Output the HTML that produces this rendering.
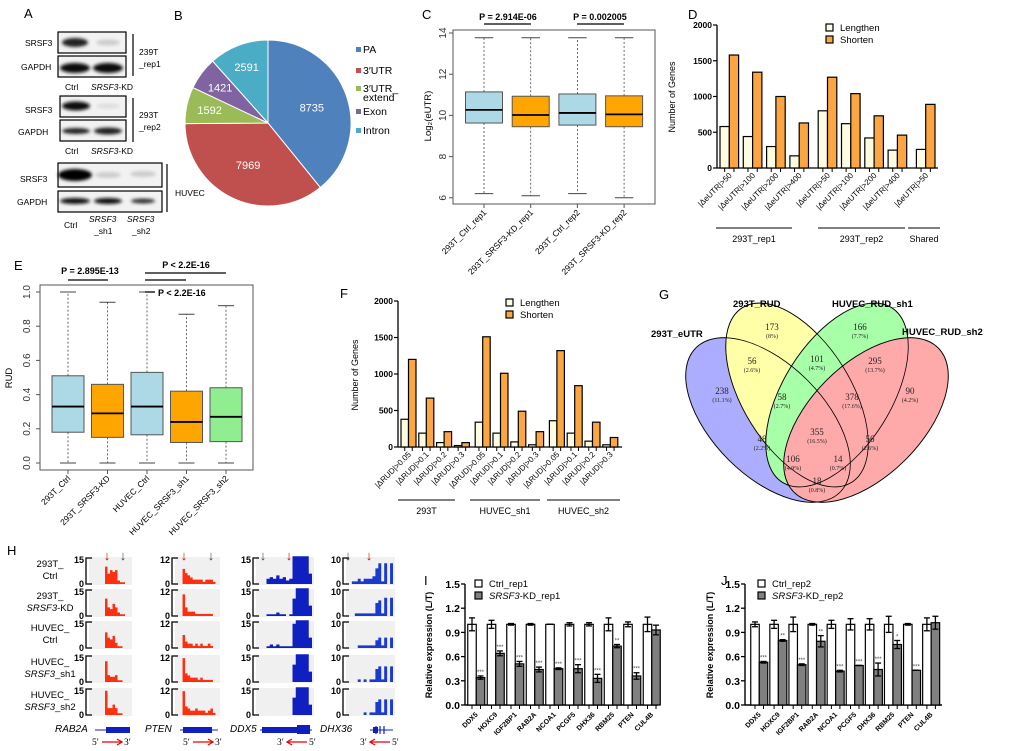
<!DOCTYPE html>
<html><head><meta charset="utf-8"><style>
html,body{margin:0;padding:0;background:#fff;}
svg{display:block;font-family:"Liberation Sans",sans-serif;}
</style></head><body>
<svg id="fig" width="1020" height="751" viewBox="0 0 1020 751" xmlns="http://www.w3.org/2000/svg">
<defs><filter id="blur" x="-20%" y="-50%" width="140%" height="200%"><feGaussianBlur stdDeviation="1.6"/></filter></defs>
<g font-size="13" fill="#000">
<text x="24" y="18">A</text><text x="174" y="20">B</text><text x="422" y="19">C</text><text x="688" y="19">D</text>
<text x="14" y="270">E</text><text x="340" y="298">F</text><text x="659" y="299">G</text><text x="7" y="555">H</text>
<text x="424" y="585">I</text><text x="721" y="585">J</text></g>
<g id="panelA" font-size="8.5">
<rect x="58" y="32" width="68" height="21" fill="#f2f2f2" stroke="#000" stroke-width="1.2"/>
<ellipse cx="75" cy="42.5" rx="13" ry="4.5" fill="#222" filter="url(#blur)"/><ellipse cx="108" cy="42.5" rx="12" ry="3" fill="#ccc" filter="url(#blur)"/>
<rect x="58" y="56" width="68" height="21" fill="#f2f2f2" stroke="#000" stroke-width="1.2"/>
<ellipse cx="75" cy="68" rx="15" ry="5" fill="#111" filter="url(#blur)"/><ellipse cx="108" cy="68" rx="15" ry="5" fill="#111" filter="url(#blur)"/>
<text x="25" y="46">SRSF3</text><text x="21" y="70">GAPDH</text>
<text x="65" y="90">Ctrl</text><text x="91" y="90"><tspan font-style="italic">SRSF3</tspan>-KD</text>
<line x1="133" y1="34" x2="133" y2="76" stroke="#000" stroke-width="1.2"/><text x="139" y="55">239T</text><text x="139" y="67">_rep1</text>
<rect x="60" y="96" width="66" height="21" fill="#f2f2f2" stroke="#000" stroke-width="1.2"/>
<ellipse cx="76" cy="106" rx="14" ry="4.5" fill="#111" filter="url(#blur)"/><ellipse cx="108" cy="106" rx="12" ry="2.5" fill="#ddd" filter="url(#blur)"/>
<rect x="60" y="120" width="66" height="21" fill="#f2f2f2" stroke="#000" stroke-width="1.2"/>
<ellipse cx="76" cy="131" rx="14" ry="3" fill="#222" filter="url(#blur)"/><ellipse cx="108" cy="131" rx="14" ry="3.5" fill="#222" filter="url(#blur)"/>
<text x="25" y="113">SRSF3</text><text x="18" y="135">GAPDH</text>
<text x="65" y="154">Ctrl</text><text x="91" y="154"><tspan font-style="italic">SRSF3</tspan>-KD</text>
<line x1="133" y1="98" x2="133" y2="142" stroke="#000" stroke-width="1.2"/><text x="139" y="118">293T</text><text x="139" y="130">_rep2</text>
<rect x="58" y="163" width="104" height="24" fill="#f2f2f2" stroke="#000" stroke-width="1.2"/>
<ellipse cx="75" cy="175" rx="17" ry="6" fill="#000" filter="url(#blur)"/><ellipse cx="108" cy="175" rx="13" ry="3" fill="#ccc" filter="url(#blur)"/><ellipse cx="143" cy="174" rx="13" ry="3" fill="#ccc" filter="url(#blur)"/>
<rect x="58" y="191" width="104" height="21" fill="#f2f2f2" stroke="#000" stroke-width="1.2"/>
<ellipse cx="75" cy="201" rx="15" ry="3" fill="#111" filter="url(#blur)"/><ellipse cx="108" cy="201" rx="14" ry="3" fill="#111" filter="url(#blur)"/><ellipse cx="143" cy="201" rx="12" ry="2.5" fill="#333" filter="url(#blur)"/>
<text x="20" y="182">SRSF3</text><text x="17" y="205">GAPDH</text>
<line x1="167" y1="164" x2="167" y2="212" stroke="#000" stroke-width="1.2"/><text x="175" y="196">HUVEC</text>
<text x="64" y="228">Ctrl</text>
<text x="89" y="222" font-style="italic">SRSF3</text><text x="94" y="234">_sh1</text>
<text x="127" y="222" font-style="italic">SRSF3</text><text x="132" y="234">_sh2</text>
</g>
<g id="panelB"></g>
<g id="panelC"></g>
<g id="panelD"></g>
<g id="panelE"></g>
<g id="panelF"></g>
<g id="panelG">
<g opacity="0.55">
<ellipse cx="768" cy="420" rx="102" ry="56" transform="rotate(45 768 420)" fill="#6b6bff" stroke="#000"/>
<ellipse cx="797" cy="395" rx="103" ry="54" transform="rotate(58 797 395)" fill="#ffff60" stroke="#000"/>
<ellipse cx="837" cy="395" rx="103" ry="54" transform="rotate(-58 837 395)" fill="#60ff60" stroke="#000"/>
<ellipse cx="866" cy="420" rx="102" ry="56" transform="rotate(-45 866 420)" fill="#ff6666" stroke="#000"/>
</g>
<g fill="none" stroke="#000" stroke-width="0.8">
<ellipse cx="768" cy="420" rx="102" ry="56" transform="rotate(45 768 420)"/>
<ellipse cx="797" cy="395" rx="103" ry="54" transform="rotate(58 797 395)"/>
<ellipse cx="837" cy="395" rx="103" ry="54" transform="rotate(-58 837 395)"/>
<ellipse cx="866" cy="420" rx="102" ry="56" transform="rotate(-45 866 420)"/>
</g>
<g font-weight="bold" font-size="9.5">
<text x="651" y="337">293T_eUTR</text><text x="733" y="307">293T_RUD</text><text x="832" y="307">HUVEC_RUD_sh1</text><text x="902" y="335">HUVEC_RUD_sh2</text></g>
<g id="vennNums" font-family="Liberation Serif,serif" text-anchor="middle" fill="#222"></g>
</g>
<g id="panelH"></g>
<g id="panelI"></g>
<g id="panelJ"></g>
</svg>
<script>
const pieLabels=["PA","3′UTR","3′UTR_ extend","Exon","Intron"];
const pieValues=[8735,7969,1592,1421,2591];
const pieColors=["#4f81bd","#c0504d","#9bbb59","#8064a2","#4bacc6"];

const cCats=["293T_Ctrl_rep1","293T_SRSF3-KD_rep1","293T_Ctrl_rep2","293T_SRSF3-KD_rep2"];
const cMin=[6.2,6.1,6.2,6.0];
const cQ1=[9.63,9.45,9.53,9.45];
const cMed=[10.27,10.02,10.12,10.05];
const cQ3=[11.14,10.93,11.04,10.95];
const cMax=[13.77,13.77,13.77,13.77];
const cTicks=[6,8,10,12,14];

const dCats=["|ΔeUTR|>50","|ΔeUTR|>100","|ΔeUTR|>200","|ΔeUTR|>400","|ΔeUTR|>50","|ΔeUTR|>100","|ΔeUTR|>200","|ΔeUTR|>400","|ΔeUTR|>50"];
const dLengthen=[580,440,300,170,800,620,420,250,260];
const dShorten=[1580,1340,1000,630,1270,1040,730,460,890];
const dTicks=[0,500,1000,1500,2000];

const eCats=["293T_Ctrl","293T_SRSF3-KD","HUVEC_Ctrl","HUVEC_SRSF3_sh1","HUVEC_SRSF3_sh2"];
const eMin=[0,0,0,0,0];
const eQ1=[0.18,0.15,0.165,0.12,0.125];
const eMed=[0.33,0.29,0.33,0.24,0.27];
const eQ3=[0.51,0.46,0.53,0.42,0.44];
const eMax=[1.0,0.94,1.0,0.87,0.92];
const eTicks=[0,0.2,0.4,0.6,0.8,1.0];

const fCats=["|ΔRUD|>0.05","|ΔRUD|>0.1","|ΔRUD|>0.2","|ΔRUD|>0.3","|ΔRUD|>0.05","|ΔRUD|>0.1","|ΔRUD|>0.2","|ΔRUD|>0.3","|ΔRUD|>0.05","|ΔRUD|>0.1","|ΔRUD|>0.2","|ΔRUD|>0.3"];
const fLengthen=[380,190,60,20,340,190,70,30,360,190,80,30];
const fShorten=[1200,670,210,60,1510,1010,490,210,1320,840,340,130];
const fTicks=[0,500,1000,1500,2000];

const vennNums=["173","166","56","101","295","238","58","378","90","355","48","56","106","14","18"];
const vennPct=["(8%)","(7.7%)","(2.6%)","(4.7%)","(13.7%)","(11.1%)","(2.7%)","(17.6%)","(4.2%)","(16.5%)","(2.2%)","(2.6%)","(4.9%)","(0.7%)","(0.8%)"];

const qGenes=["DDX5","HOXC9","IGF2BP1","RAB2A","NCOA1","PCGF5","DHX36","RBM25","PTEN","CUL4B"];
const iCtrl=[1,1,1,1,1,1,1,1,1,1];
const iCtrlErr=[0.08,0.05,0.01,0.01,0,0.02,0.02,0.08,0.03,0.09];
const iKD=[0.34,0.64,0.51,0.44,0.45,0.45,0.33,0.73,0.36,0.93];
const iKDErr=[0.02,0.03,0.03,0.03,0.01,0.05,0.05,0.02,0.04,0.06];
const iStars=["***","***","***","***","***","***","***","**","***",""];
const jCtrl=[1,1,1,1,1,1,1,1,1,1];
const jCtrlErr=[0.03,0.05,0.09,0.01,0.05,0.07,0.07,0.1,0.01,0.08];
const jKD=[0.53,0.80,0.50,0.79,0.42,0.49,0.44,0.75,0.43,1.02];
const jKDErr=[0.01,0.01,0.01,0.07,0.01,0,0.08,0.05,0,0.08];
const jStars=["***","**","***","**","***","***","***","*","***",""];
const qTicks=[0,0.3,0.6,0.9,1.2,1.5];

const hRows=["293T_|Ctrl","293T_|SRSF3-KD","HUVEC_|Ctrl","HUVEC_|SRSF3_sh1","HUVEC_|SRSF3_sh2"];
const hGenes=["RAB2A","PTEN","DDX5","DHX36"];
const hMax=[15,12,15,10];
const covRAB2A=[[0,0,0,0,10,6,8,7,8,2,1,1,0,0],[0,0,0,0,10,5,4,7,5,2,1,1,0,0],[0,0,0,0,9,6,5,7,3,1,1,0,0,0],[0,0,0,0,12,4,3,3,4,1,1,0,0,0],[0,0,0,0,14,4,4,6,4,1,1,0,0,0]];
const covPTEN=[[0,7,5,4,3,2,2,2,2,1,2,2,2,1,0],[0,10,4,2,2,2,1,1,1,1,1,1,1,0,0],[0,6,3,2,2,1,2,1,2,1,1,2,1,0,0],[0,11,4,3,2,2,2,1,2,1,1,1,1,0,0],[0,11,4,3,2,2,3,2,2,2,1,2,3,1,0]];
const covDDX5=[[0,0,3,4,3,5,3,4,2,3,16,16,16,16,16,6],[0,0,1,1,1,2,1,1,0,1,10,16,16,16,16,6],[0,0,1,2,1,2,1,1,1,1,14,16,16,16,16,6],[0,0,0,0,0,0,0,0,0,0,10,16,16,16,16,6],[0,0,0,0,0,0,0,0,0,0,10,16,16,16,16,6]];
const covDHX36=[[0,0,1,1,2,1,2,2,2,3,6,8,1,8,0,8],[0,0,0,1,1,1,1,1,1,1,5,6,1,7,0,7],[0,0,0,0,1,1,1,1,1,1,3,4,1,4,0,4],[0,0,0,0,1,0,1,0,1,1,5,6,1,6,0,6],[0,0,0,0,0,0,1,0,1,1,5,6,1,6,0,6]];

const NS="http://www.w3.org/2000/svg";
function mk(tag,attrs,parent){const e=document.createElementNS(NS,tag);for(const k in attrs)e.setAttribute(k,attrs[k]);parent.appendChild(e);return e;}
function tx(x,y,s,attrs,parent){const e=mk("text",Object.assign({x:x,y:y},attrs),parent);e.textContent=s;return e;}
function lin(a,b,c,d,attrs,parent){return mk("line",Object.assign({x1:a,y1:b,x2:c,y2:d,stroke:"#000"},attrs),parent);}

(function(){
const g=document.getElementById("panelB");
const cx=268,cy=123,r=83;const tot=pieValues.reduce((a,b)=>a+b,0);let acc=0;
const legY=[52,73,91,114,133];
pieValues.forEach((v,i)=>{
 const a0=acc/tot*2*Math.PI;acc+=v;const a1=acc/tot*2*Math.PI;
 const p=(a)=>[cx+r*Math.sin(a),cy-r*Math.cos(a)];
 const [x0,y0]=p(a0),[x1,y1]=p(a1);
 const s=mk("path",{d:`M${cx},${cy}L${x0},${y0}A${r},${r} 0 ${a1-a0>Math.PI?1:0} 1 ${x1},${y1}Z`,fill:pieColors[i],stroke:"#fff","stroke-width":1},g);
 
 
 const am=(a0+a1)/2,rr=r*(i<2?0.56:0.72);
 const t=tx(cx+rr*Math.sin(am),cy-rr*Math.cos(am)+4,String(v),{fill:"#fff","font-size":11,"text-anchor":"middle"},g);
 
 
 const ly=legY[i];
 const sw=mk("rect",{x:356,y:ly-5,width:5,height:5,fill:pieColors[i]},g);
 
 
 const parts=pieLabels[i].split(" ");
 const lt=tx(363,ly+1,parts[0],{"font-size":10.5},g);
 
 
 if(parts[1]){const l2=tx(363,ly+10,parts[1],{"font-size":10.5},g);}
});
})();

function boxplot(g,cats,mn,q1,md,q3,mx,xs,hw,ys,colors){
 cats.forEach((c,i)=>{
  const x=xs(i);
  const w=lin(x,ys(q3[i]),x,ys(mx[i]),{"stroke-dasharray":"2,2","stroke-width":0.8,stroke:"#444"},g);
  
  
  const w2=lin(x,ys(q1[i]),x,ys(mn[i]),{"stroke-dasharray":"2,2","stroke-width":0.8,stroke:"#444"},g);
  
  
  lin(x-hw/2,ys(mx[i]),x+hw/2,ys(mx[i]),{stroke:"#444"},g);
  lin(x-hw/2,ys(mn[i]),x+hw/2,ys(mn[i]),{stroke:"#444"},g);
  const b=mk("rect",{x:x-hw,y:ys(q3[i]),width:2*hw,height:ys(q1[i])-ys(q3[i]),fill:colors[i],stroke:"#555"},g);
  
  
  lin(x-hw,ys(md[i]),x+hw,ys(md[i]),{"stroke-width":1.8},g);
 });
}
(function(){
const g=document.getElementById("panelC");
const ys=v=>33+(14-v)*20.6, xs=i=>484+i*46.7;
mk("rect",{x:453,y:30,width:202,height:174,fill:"none",stroke:"#555"},g);
cTicks.forEach(t=>{lin(449,ys(t),453,ys(t),{stroke:"#555"},g);const l=tx(446,ys(t),String(t),{"font-size":10,"text-anchor":"middle",transform:`rotate(-90 446 ${ys(t)})`,fill:"#333"},g);});
const yl=tx(431,116,"Log₂(eUTR)",{"font-size":9.5,"text-anchor":"middle",transform:"rotate(-90 431 116)"},g);


boxplot(g,cCats,cMin,cQ1,cMed,cQ3,cMax,xs,18.5,ys,["#add8e6","#ffa500","#add8e6","#ffa500"]);
cCats.forEach((c,i)=>{lin(xs(i),204,xs(i),208,{stroke:"#555"},g);const t=tx(xs(i)+3,213,c,{"font-size":8.5,"text-anchor":"end",transform:`rotate(-45 ${xs(i)+3} 213)`},g);});
lin(484,24,531,24,{"stroke-width":1.3},g);lin(577,24,624,24,{"stroke-width":1.3},g);
tx(508,20,"P = 2.914E-06",{"font-size":9,"font-weight":"bold","text-anchor":"middle"},g);
tx(600,20,"P = 0.002005",{"font-size":9,"font-weight":"bold","text-anchor":"middle"},g);
})();
(function(){
const g=document.getElementById("panelE");
const ys=v=>463-v*171, xs=i=>68+i*39.5;
mk("rect",{x:40,y:285,width:213,height:185,fill:"none",stroke:"#555"},g);
eTicks.forEach(t=>{lin(36,ys(t),40,ys(t),{stroke:"#555"},g);const l=tx(30,ys(t),t.toFixed(1),{"font-size":10,"text-anchor":"middle",transform:`rotate(-90 30 ${ys(t)})`,fill:"#333"},g);});
const yl=tx(12,378,"RUD",{"font-size":9.5,"text-anchor":"middle",transform:"rotate(-90 12 378)"},g);


boxplot(g,eCats,eMin,eQ1,eMed,eQ3,eMax,xs,16,ys,["#add8e6","#ffa500","#add8e6","#ffa500","#90ee90"]);
eCats.forEach((c,i)=>{lin(xs(i),470,xs(i),474,{stroke:"#555"},g);const t=tx(xs(i)+3,479,c,{"font-size":8.5,"text-anchor":"end",transform:`rotate(-45 ${xs(i)+3} 479)`},g);});
lin(68,280,108,280,{"stroke-width":1.3},g);lin(145,273,226,273,{"stroke-width":1.3},g);lin(145,280,186,280,{"stroke-width":1.3},g);lin(145,292,155,292,{"stroke-width":1.3},g);
tx(90,274,"P = 2.895E-13",{"font-size":9,"font-weight":"bold","text-anchor":"middle"},g);
tx(186,268,"P < 2.2E-16",{"font-size":9,"font-weight":"bold","text-anchor":"middle"},g);
tx(158,296,"P < 2.2E-16",{"font-size":9,"font-weight":"bold"},g);
})();

function grouped(g,cats,L,S,xStart,bw,y0,ymax,x0,x1,ticks,legX,legY,groups){
 const ys=v=>y0-v/2000*(y0-ymax);
 lin(x0,ymax,x0,y0,{"stroke-width":1.3},g);lin(x0,y0,x1,y0,{"stroke-width":1.3},g);
 ticks.forEach(t=>{lin(x0-4,ys(t),x0,ys(t),{"stroke-width":1.2},g);const l=tx(x0-5,ys(t)+3,String(t),{"font-size":8.5,"font-weight":"bold","text-anchor":"end"},g);});
 cats.forEach((c,i)=>{
  const xs=xStart(i);
  const b1=mk("rect",{x:xs,y:ys(L[i]),width:bw,height:y0-ys(L[i]),fill:"#fdfbe0",stroke:"#000","stroke-width":1.2},g);
  
  
  const b2=mk("rect",{x:xs+bw,y:ys(S[i]),width:bw,height:y0-ys(S[i]),fill:"#fba543",stroke:"#000","stroke-width":1.2},g);
  
  
  lin(xs+bw/2,y0,xs+bw/2,y0+4,{},g);lin(xs+1.5*bw,y0,xs+1.5*bw,y0+4,{},g);
  const t=tx(xs+bw+3,y0+8,c,{"font-size":8,"text-anchor":"end",transform:`rotate(-45 ${xs+bw+3} ${y0+8})`},g);
  
  
 });
 [["Lengthen","#fdfbe0"],["Shorten","#fba543"]].forEach((p,k)=>{
  mk("rect",{x:legX,y:legY+k*12-7,width:7,height:7,fill:p[1],stroke:"#000","stroke-width":1.2},g);
  const t=tx(legX+14,legY+k*12,p[0],{"font-size":9.5},g);
  
  
 });
 groups.forEach(gr=>{lin(gr[0],gr[3],gr[1],gr[3],{"stroke-width":1},g);const t=tx((gr[0]+gr[1])/2,gr[3]+14,gr[2],{"font-size":9,"text-anchor":"middle"},g);});
}
(function(){
const g=document.getElementById("panelD");
grouped(g,dCats,dLengthen,dShorten,i=>720+i*23.3+(i>=4?5:0)+(i>=8?5:0),9.3,168,25,717,938,dTicks,826,31,
 [[716,792,"293T_rep1",228],[818,905,"293T_rep2",228],[908,940,"Shared",228]]);
const yl=tx(675,97,"Number of Genes",{"font-size":9,"text-anchor":"middle",transform:"rotate(-90 675 97)"},g);


})();
(function(){
const g=document.getElementById("panelF");
grouped(g,fCats,fLengthen,fShorten,i=>401+i*17.8+(i>=4?3:0)+(i>=8?3:0),7.5,447,301,398,622,fTicks,506,306,
 [[398,455,"293T",500],[470,540,"HUVEC_sh1",500],[547,620,"HUVEC_sh2",500]]);
const yl=tx(358,375,"Number of Genes",{"font-size":9,"text-anchor":"middle",transform:"rotate(-90 358 375)"},g);


})();

(function(){
const g=document.getElementById("vennNums");
const pos=[[772,330],[860,330],[752,364],[817,362],[875,364],[722,394],[782,400],[852,400],[910,394],[817,435],[762,442],[870,442],[793,462],[838,462],[817,484]];
vennNums.forEach((n,i)=>{
 const t=tx(pos[i][0],pos[i][1],n,{"font-size":9},g);
 
 
 const p=tx(pos[i][0],pos[i][1]+8,vennPct[i],{"font-size":6},g);
 
 
});
})();

(function(){
const g=document.getElementById("panelH");
const covs=[covRAB2A,covPTEN,covDDX5,covDHX36];
const cols=[{ax:86,x0:95,x1:130,c:"#ff3010"},{ax:172,x0:180,x1:218,c:"#ff3010"},{ax:253,x0:260,x1:312,c:"#1020c0"},{ax:343,x0:346,x1:393,c:"#1a3ad0"}];
const rowTop=[558,590,622,656,689],th=26;
hRows.forEach((r,ri)=>{
 const [a,b]=r.split("|");
 const l1=tx(50,rowTop[ri]+9,a,{"font-size":9.5,"text-anchor":"middle"},g);
 
 
 const l2=tx(50,rowTop[ri]+21,b,{"font-size":9.5,"text-anchor":"middle"},g);
 if(b.indexOf("SRSF3")>=0){l2.textContent="";const s1=mk("tspan",{"font-style":"italic"},l2);s1.textContent="SRSF3";const s2=mk("tspan",{},l2);s2.textContent=b.replace("SRSF3","");}
 
 
 cols.forEach((c,ci)=>{
  const y0=rowTop[ri]+th;
  mk("rect",{x:c.ax+3,y:rowTop[ri]-1,width:c.x1-c.ax-1,height:th+2,fill:"#f0f0f0"},g);
  mk("path",{d:`M${c.ax+6},${rowTop[ri]}H${c.ax}V${y0}H${c.ax+6}`,fill:"none",stroke:"#000","stroke-width":1.3},g);
  tx(c.ax-2,rowTop[ri]+5,String(hMax[ci]),{"font-size":9,"text-anchor":"end","font-weight":"bold"},g);
  tx(c.ax-2,y0+3,"0",{"font-size":9,"text-anchor":"end","font-weight":"bold"},g);
  const arr=covs[ci][ri],bw=(c.x1-c.x0)/arr.length;let d=`M${c.x0},${y0}`;
  arr.forEach((v,k)=>{const h=Math.min(v,hMax[ci]+1)/hMax[ci]*th;d+=`V${y0-h}H${c.x0+(k+1)*bw}`;});
  d+=`V${y0}Z`;
  const p=mk("path",{d:d,fill:c.c},g);
  
  
 });
});
[[107,"#c00"],[123,"#444"],[184,"#c00"],[211,"#444"],[263,"#444"],[289,"#c00"],[348,"#444"],[369,"#c00"]].forEach(a=>{
 const t=tx(a[0],560,"↓",{"font-size":13,"text-anchor":"middle",fill:a[1]},g);
 
 
});
const gm=[[95,130,106,130,"RAB2A",55],[180,218,183,212,"PTEN",145],[260,312,262,300,"DDX5",230],[370,393,373,378,"DHX36",320]];
gm.forEach(m=>{
 lin(m[0],730,m[1],730,{stroke:"#1020c0","stroke-width":1},g);
 mk("rect",{x:m[2],y:727,width:m[3]-m[2],height:6,fill:"#1020c0"},g);
 const t=tx(m[5],732,m[4],{"font-size":10,"font-style":"italic"},g);
 
 
});
mk("rect",{x:297,y:725,width:13,height:9,fill:"#1020c0"},g);
[376,380,384].forEach(x=>lin(x,726,x,734,{stroke:"#1020c0","stroke-width":1.2},g));
[[92,"5′","3′",1],[183,"5′","3′",1],[277,"3′","5′",-1],[360,"3′","5′",-1]].forEach(o=>{
 tx(o[0],745,o[1],{"font-size":9.5,"font-family":"Liberation Serif,serif"},g);
 tx(o[0]+32,745,o[2],{"font-size":9.5,"font-family":"Liberation Serif,serif"},g);
 const xa=o[0]+10,xb=o[0]+30;
 lin(xa,742,xb,742,{stroke:"#e00","stroke-width":1.3},g);
 const tip=o[3]>0?xb:xa,dir=o[3];
 mk("path",{d:`M${tip-dir*5},${739}L${tip},742L${tip-dir*5},745`,fill:"none",stroke:"#e00","stroke-width":1.3},g);
});
})();

function qbar(g,ctrl,ce,kd,ke,stars,x0,x1,firstC,pitch,legLabel,ylabX){
 const y0=705,ys=v=>y0-v/1.5*121,bw=8.5;
 lin(x0,584,x0,y0,{"stroke-width":1.4},g);lin(x0,y0,x1,y0,{"stroke-width":1.4},g);
 qTicks.forEach(t=>{lin(x0-4,ys(t),x0,ys(t),{"stroke-width":1.3},g);const l=tx(x0-5,ys(t)+4,t.toFixed(1),{"font-size":10.5,"font-weight":"bold","text-anchor":"end"},g);});
 const yl=tx(ylabX,645,"Relative expression (L/T)",{"font-size":9,"font-weight":"bold","text-anchor":"middle",transform:`rotate(-90 ${ylabX} 645)`},g);
 
 
 qGenes.forEach((gn,i)=>{
  const cx=firstC+i*pitch;
  const b1=mk("rect",{x:cx-bw/2,y:ys(ctrl[i]),width:bw,height:y0-ys(ctrl[i]),fill:"#fff",stroke:"#000","stroke-width":1.2},g);
  
  
  const b2=mk("rect",{x:cx+bw/2,y:ys(kd[i]),width:bw,height:y0-ys(kd[i]),fill:"#808080",stroke:"#000","stroke-width":1.2},g);
  
  
  [[cx,ctrl[i],ce[i]],[cx+bw,kd[i],ke[i]]].forEach(e=>{
   lin(e[0],ys(e[1]+e[2]),e[0],ys(e[1]-e[2]),{"stroke-width":1.3},g);
   lin(e[0]-3,ys(e[1]+e[2]),e[0]+3,ys(e[1]+e[2]),{"stroke-width":1.3},g);
   lin(e[0]-3,ys(e[1]-e[2]),e[0]+3,ys(e[1]-e[2]),{"stroke-width":1.3},g);
  });
  if(stars[i]){const s=tx(cx+bw,ys(kd[i]+ke[i])-2,stars[i],{"font-size":6,"text-anchor":"middle",fill:"#445"},g);}
  lin(cx,y0,cx,y0+4,{},g);lin(cx+bw,y0,cx+bw,y0+4,{},g);
  const t=tx(cx+bw/2+2,y0+10,gn,{"font-size":7,"font-weight":"bold","text-anchor":"end",transform:`rotate(-45 ${cx+bw/2+2} ${y0+10})`},g);
  
  
 });
 const lx=firstC+3;
 mk("rect",{x:lx,y:580,width:7,height:7,fill:"#fff",stroke:"#000","stroke-width":1.2},g);
 mk("rect",{x:lx,y:592,width:7,height:7,fill:"#808080",stroke:"#000","stroke-width":1.2},g);
 const l1=tx(lx+14,587,"Ctrl_"+legLabel,{"font-size":9.5},g);
 
 
 const l2=tx(lx+14,599,"",{"font-size":9.5},g);
 const s1=mk("tspan",{"font-style":"italic"},l2);s1.textContent="SRSF3";
 const s2=mk("tspan",{},l2);s2.textContent="-KD_"+legLabel;
 
 
}
qbar(document.getElementById("panelI"),iCtrl,iCtrlErr,iKD,iKDErr,iStars,465,658,472,19.5,"rep1",432);
qbar(document.getElementById("panelJ"),jCtrl,jCtrlErr,jKD,jKDErr,jStars,745,942,755,19.1,"rep2",713);
</script>
</body></html>
